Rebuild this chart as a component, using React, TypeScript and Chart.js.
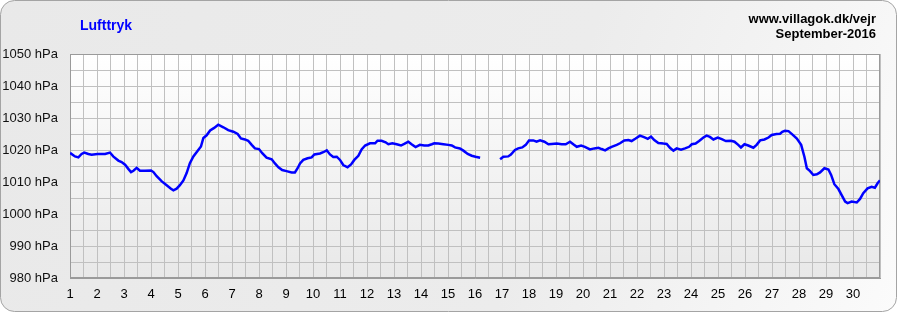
import { useEffect, useRef } from "react";
import { Chart, registerables } from "chart.js";

Chart.register(...registerables);

const FONT = "Arial, 'Liberation Sans', sans-serif";

const chartTitle = "Lufttryk";
const siteLines = ["www.villagok.dk/vejr", "September-2016"];

const yMin = 980;
const yMax = 1050;
const yUnit = "hPa";
const firstDay = 1;
const lastDay = 31;
const lastLabelDay = 30;

// time in days of September (fractional), null = missing data
const days = [
  1.0, 1.185, 1.31, 1.43, 1.53, 1.68, 1.8, 2.02, 2.3, 2.48, 2.6, 2.79, 2.91,
  3.04, 3.16, 3.26, 3.35, 3.47, 3.59, 3.78, 4.0, 4.09, 4.21, 4.4, 4.58, 4.74,
  4.83, 4.95, 5.07, 5.2, 5.32, 5.44, 5.57, 5.73, 5.85, 5.94, 6.06, 6.19, 6.34,
  6.49, 6.68, 6.86, 7.05, 7.21, 7.33, 7.48, 7.6, 7.73, 7.85, 8.0, 8.12, 8.28,
  8.47, 8.59, 8.72, 8.86, 9.02, 9.21, 9.33, 9.43, 9.52, 9.64, 9.8, 9.95, 10.05,
  10.26, 10.38, 10.51, 10.63, 10.75, 10.88, 11.0, 11.12, 11.28, 11.41, 11.53,
  11.68, 11.8, 11.93, 12.11, 12.3, 12.39, 12.54, 12.69, 12.79, 12.94, 13.1,
  13.26, 13.38, 13.53, 13.65, 13.8, 13.96, 14.12, 14.27, 14.4, 14.49, 14.64,
  14.83, 15.01, 15.14, 15.26, 15.44, 15.57, 15.73, 15.88, 16.02, 16.19, 16.5,
  16.93, 17.05, 17.23, 17.33, 17.48, 17.6, 17.75, 17.88, 18.0, 18.16, 18.28,
  18.41, 18.57, 18.72, 18.84, 19.03, 19.21, 19.36, 19.52, 19.64, 19.77, 19.93,
  20.07, 20.26, 20.42, 20.57, 20.69, 20.82, 20.94, 21.06, 21.25, 21.37, 21.53,
  21.68, 21.8, 21.95, 22.11, 22.26, 22.4, 22.52, 22.64, 22.79, 22.98, 23.1,
  23.22, 23.35, 23.47, 23.63, 23.78, 23.93, 24.03, 24.17, 24.3, 24.46, 24.58,
  24.7, 24.83, 24.99, 25.14, 25.29, 25.48, 25.61, 25.75, 25.85, 25.98, 26.12,
  26.31, 26.43, 26.56, 26.72, 26.87, 26.99, 27.17, 27.3, 27.38, 27.48, 27.61,
  27.75, 27.92, 28.08, 28.2, 28.29, 28.41, 28.53, 28.66, 28.78, 28.94, 29.09,
  29.19, 29.31, 29.46, 29.58, 29.71, 29.8, 29.95, 30.14, 30.26, 30.38, 30.54,
  30.69, 30.81, 30.91, 31.0,
];

const pressure: (number | null)[] = [
  1019.1, 1018.0, 1017.7, 1018.75, 1019.2, 1018.75, 1018.5, 1018.75, 1018.75,
  1019.2, 1018.0, 1016.7, 1016.25, 1015.4, 1014.1, 1013.1, 1013.5, 1014.4,
  1013.5, 1013.5, 1013.6, 1013.1, 1011.8, 1010.2, 1009.0, 1007.9, 1007.4,
  1007.9, 1009.0, 1010.5, 1012.8, 1015.9, 1018.0, 1019.8, 1021.1, 1023.75,
  1024.6, 1026.1, 1026.9, 1027.9, 1027.1, 1026.2, 1025.7, 1025.0, 1023.6,
  1023.3, 1022.9, 1021.6, 1020.5, 1020.3, 1019.0, 1017.6, 1017.1, 1015.8,
  1014.6, 1013.75, 1013.4, 1013.0, 1013.0, 1014.3, 1015.8, 1016.9, 1017.4,
  1017.7, 1018.6, 1018.9, 1019.3, 1019.9, 1018.6, 1017.8, 1017.9, 1016.9,
  1015.3, 1014.6, 1015.5, 1016.9, 1018.2, 1020.2, 1021.4, 1022.1, 1022.1,
  1022.9, 1022.9, 1022.4, 1021.8, 1022.1, 1021.8, 1021.4, 1021.9, 1022.6,
  1021.8, 1020.9, 1021.6, 1021.4, 1021.4, 1021.8, 1022.1, 1022.0, 1021.8,
  1021.6, 1021.4, 1020.8, 1020.5, 1019.8, 1018.75, 1018.2, 1017.9, 1017.6,
  null, 1017.1, 1017.9, 1018.0, 1018.6, 1020.0, 1020.5, 1020.8, 1021.6, 1023.0,
  1023.0, 1022.6, 1023.0, 1022.6, 1021.8, 1021.9, 1022.0, 1021.8, 1021.8,
  1022.6, 1021.8, 1021.0, 1021.4, 1021.0, 1020.2, 1020.5, 1020.7, 1020.3,
  1019.9, 1020.5, 1021.0, 1021.6, 1022.1, 1023.0, 1023.1, 1022.8, 1023.6,
  1024.5, 1024.0, 1023.5, 1024.2, 1023.1, 1022.2, 1022.0, 1021.9, 1020.7,
  1019.8, 1020.5, 1020.1, 1020.5, 1021.0, 1021.8, 1022.0, 1022.8, 1023.9,
  1024.5, 1024.1, 1023.3, 1023.9, 1023.4, 1022.8, 1022.9, 1022.6, 1021.6,
  1020.8, 1021.8, 1021.4, 1020.7, 1021.6, 1023.0, 1023.3, 1023.9, 1024.7,
  1025.0, 1025.1, 1025.7, 1026.0, 1025.9, 1024.9, 1023.6, 1021.6, 1017.9,
  1014.3, 1013.4, 1012.2, 1012.4, 1013.0, 1014.3, 1013.9, 1012.2, 1009.3,
  1007.8, 1005.9, 1003.9, 1003.4, 1003.9, 1003.6, 1004.7, 1006.5, 1008.0,
  1008.5, 1008.2, 1009.6, 1010.5,
];

const W = 897;
const H = 312;

export default function App() {
  const ref = useRef<HTMLCanvasElement>(null);

  useEffect(() => {
    if (!ref.current) return;
    Chart.defaults.font.family = FONT;

    const points = days.map((d, i) => ({ x: d, y: pressure[i] }));

    const decor = {
      id: "decor",
      beforeDraw(chart: any) {
        const { ctx, chartArea: a } = chart;
        ctx.save();
        // card
        const cg = ctx.createLinearGradient(0, 0, W, H);
        cg.addColorStop(0, "#e9e9e9");
        cg.addColorStop(0.6, "#ececec");
        cg.addColorStop(1, "#fbfbfb");
        ctx.beginPath();
        (ctx as any).roundRect(0.5, 0.5, W - 1, H - 1, 14);
        ctx.fillStyle = cg;
        ctx.fill();
        ctx.strokeStyle = "#a4a4a4";
        ctx.lineWidth = 1;
        ctx.stroke();
        // plot area
        const pg = ctx.createLinearGradient(0, a.top, 0, a.bottom);
        pg.addColorStop(0, "#ffffff");
        pg.addColorStop(1, "#e8e8e8");
        ctx.fillStyle = pg;
        ctx.fillRect(a.left, a.top, a.right - a.left, a.bottom - a.top);
        ctx.restore();
      },
      beforeDatasetsDraw(chart: any) {
        const { ctx, chartArea: a } = chart;
        ctx.save();
        ctx.strokeStyle = "#9a9a9a";
        ctx.lineWidth = 1;
        ctx.strokeRect(
          Math.round(a.left) + 0.5,
          Math.round(a.top) + 0.5,
          Math.round(a.right - a.left) - 1,
          Math.round(a.bottom - a.top) - 1
        );
        ctx.restore();
      },
      afterDraw(chart: any) {
        const { ctx } = chart;
        ctx.save();
        ctx.textBaseline = "alphabetic";
        ctx.font = `bold 14px ${FONT}`;
        ctx.fillStyle = "#0000ff";
        ctx.textAlign = "left";
        ctx.fillText(chartTitle, 80, 30);
        ctx.font = `bold 13px ${FONT}`;
        ctx.fillStyle = "#000000";
        ctx.textAlign = "right";
        ctx.fillText(siteLines[0], 876, 23);
        ctx.fillText(siteLines[1], 876, 38);
        ctx.restore();
      },
    };

    const chart = new Chart(ref.current, {
      type: "line",
      data: {
        datasets: [
          {
            label: chartTitle,
            data: points as any,
            borderColor: "#0000ff",
            backgroundColor: "#0000ff",
            borderWidth: 2.5,
            pointRadius: 0,
            tension: 0,
            spanGaps: false,
            fill: false,
          },
        ],
      },
      options: {
        responsive: false,
        animation: false,
        devicePixelRatio: 1,
        layout: { padding: { top: 54, right: 17, left: 0, bottom: 0 } },
        plugins: {
          legend: { display: false },
          tooltip: { enabled: false },
          title: { display: false },
        },
        scales: {
          x: {
            type: "linear",
            min: firstDay,
            max: lastDay,
            afterFit: (s: any) => {
              s.height = 34;
            },
            ticks: {
              stepSize: 0.5,
              autoSkip: false,
              maxRotation: 0,
              minRotation: 0,
              padding: 9,
              color: "#000000",
              font: { size: 13, family: FONT },
              callback: (v: any) => {
                const n = Number(v);
                return Number.isInteger(n) && n <= lastLabelDay ? String(n) : "";
              },
            },
            grid: { color: "#c0c0c0", lineWidth: 1, drawTicks: false },
            border: { color: "#9a9a9a" },
          },
          y: {
            type: "linear",
            min: yMin,
            max: yMax,
            afterFit: (s: any) => {
              s.width = 70;
            },
            ticks: {
              stepSize: 5,
              autoSkip: false,
              padding: 12,
              color: "#111111",
              font: { size: 13, family: FONT },
              callback: (v: any) => {
                const n = Number(v);
                return n % 10 === 0 ? `${n} ${yUnit}` : "";
              },
            },
            grid: { color: "#c0c0c0", lineWidth: 1, drawTicks: false },
            border: { color: "#9a9a9a" },
          },
        },
      },
      plugins: [decor],
    });

    return () => chart.destroy();
  }, []);

  return (
    <div style={{ position: "absolute", left: 0, top: 0, width: W, height: H }}>
      <canvas ref={ref} width={W} height={H} style={{ width: W, height: H, display: "block" }} />
    </div>
  );
}
